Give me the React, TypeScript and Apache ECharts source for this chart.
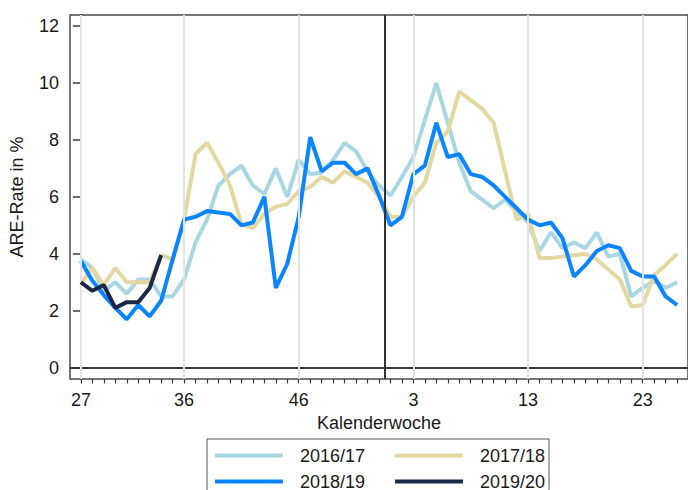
import React, { useEffect, useRef } from "react";
import * as echarts from "echarts";

const weeks = [
  "27", "28", "29", "30", "31", "32", "33", "34", "35", "36", "37", "38", "39", "40",
  "41", "42", "43", "44", "45", "46", "47", "48", "49", "50", "51", "52", "53",
  "1", "2", "3", "4", "5", "6", "7", "8", "9", "10", "11", "12", "13", "14", "15",
  "16", "17", "18", "19", "20", "21", "22", "23", "24", "25", "26",
];

const s1617 = [
  3.8, 3.5, 2.7, 3.0, 2.6, 3.1, 3.1, 2.5, 2.5, 3.1, 4.4, 5.2, 6.4, 6.8, 7.1, 6.4, 6.1,
  7.0, 6.0, 7.3, 6.8, 6.85, 7.3, 7.9, 7.6, 6.9, 6.4, 6.05, 6.7, 7.4, 8.7, 10.0, 8.6,
  7.2, 6.2, 5.9, 5.6, 5.9, 5.5, 5.1, 4.1, 4.75, 4.2, 4.4, 4.2, 4.75, 3.9, 4.0, 2.5,
  2.8, 3.05, 2.8, 3.0,
];
const s1718 = [
  2.95, 3.5, 2.9, 3.5, 3.0, 3.0, 3.0, 3.95, 3.8, 5.2, 7.5, 7.9, 7.2, 6.4, 5.05, 4.9,
  5.4, 5.65, 5.75, 6.2, 6.35, 6.7, 6.5, 6.9, 6.7, 6.5, 6.0, 5.3, 5.3, 6.0, 6.5, 7.9,
  8.3, 9.7, 9.4, 9.1, 8.6, 6.9, 5.2, 5.4, 3.85, 3.85, 3.9, 3.95, 4.0, 3.8, 3.45, 3.1,
  2.15, 2.2, 3.25, 3.6, 4.0,
];
const s1819 = [
  3.75, 3.05, 2.55, 2.1, 1.7, 2.2, 1.8, 2.35, 3.8, 5.2, 5.3, 5.5, 5.45, 5.4, 5.0, 5.1,
  6.0, 2.8, 3.65, 5.3, 8.1, 6.9, 7.2, 7.2, 6.8, 7.0, 6.05, 5.0, 5.3, 6.8, 7.1, 8.6,
  7.4, 7.5, 6.8, 6.7, 6.4, 6.0, 5.6, 5.2, 5.0, 5.1, 4.55, 3.2, 3.6, 4.1, 4.3, 4.2,
  3.4, 3.2, 3.2, 2.5, 2.2,
];
const s1920 = [3.0, 2.7, 2.9, 2.1, 2.3, 2.3, 2.8, 3.95];

const seasonNames = ["2016/17", "2017/18", "2018/19", "2019/20"];
const seasonColors = ["#a9d6e3", "#e4d8a2", "#0b84ff", "#1b2847"];
const majorTickIdx = [0, 9, 19, 29, 39, 49];
const yTicks = [0, 2, 4, 6, 8, 10, 12];
const yearBoundary = 26.5;

const FONT = "Liberation Sans, Arial, sans-serif";

export default function App() {
  const ref = useRef<HTMLDivElement>(null);

  useEffect(() => {
    if (!ref.current) return;
    const chart = echarts.init(ref.current, null, { renderer: "svg" });
    const allIdx = weeks.map((_, i) => i);
    const seriesData = [s1617, s1718, s1819, s1920];

    const xBase = {
      type: "value",
      min: -0.95,
      max: 52.95,
      position: "bottom",
      splitLine: { show: false },
    };

    const option: any = {
      animation: false,
      backgroundColor: "#ffffff",
      textStyle: { fontFamily: FONT },
      grid: {
        left: 68,
        right: -8,
        top: 15,
        bottom: 111,
        show: true,
        borderColor: "#4a4a4a",
        borderWidth: 1.5,
        backgroundColor: "transparent",
      },
      xAxis: [
        {
          ...xBase,
          name: "Kalenderwoche",
          nameLocation: "middle",
          nameGap: 30,
          nameTextStyle: { fontSize: 18, color: "#1a1a1a", fontFamily: FONT },
          axisLine: { show: true, lineStyle: { color: "#3a3a3a", width: 2 } },
          axisTick: {
            show: true,
            customValues: majorTickIdx,
            length: 8,
            lineStyle: { color: "#3a3a3a", width: 1.5 },
          },
          axisLabel: {
            customValues: majorTickIdx,
            formatter: (v: number) => weeks[Math.round(v)] ?? "",
            fontSize: 18,
            color: "#1a1a1a",
            margin: 12,
            fontFamily: FONT,
          },
        },
        {
          ...xBase,
          axisLine: { show: false },
          axisTick: {
            show: true,
            customValues: allIdx,
            length: 4.5,
            lineStyle: { color: "#3a3a3a", width: 1.2 },
          },
          axisLabel: { show: false },
        },
      ],
      yAxis: {
        type: "value",
        min: -0.4,
        max: 12.39,
        name: "ARE-Rate in %",
        nameLocation: "middle",
        nameGap: 44,
        nameTextStyle: { fontSize: 18, color: "#1a1a1a", fontFamily: FONT },
        splitLine: { show: false },
        axisLine: { show: true, lineStyle: { color: "#3a3a3a", width: 2 } },
        axisTick: {
          show: true,
          customValues: yTicks,
          length: 8,
          lineStyle: { color: "#3a3a3a", width: 1.5 },
        },
        axisLabel: {
          customValues: yTicks,
          fontSize: 18,
          color: "#1a1a1a",
          margin: 11,
          fontFamily: FONT,
        },
      },
      legend: [
        {
          data: [seasonNames[0], seasonNames[1]],
          left: 215,
          top: 445,
          padding: 0,
          itemGap: 30,
          itemWidth: 68,
          itemHeight: 4,
          icon: "rect",
          textStyle: {
            fontSize: 18,
            color: "#1a1a1a",
            lineHeight: 21,
            padding: [0, 0, 0, 12],
            fontFamily: FONT,
          },
        },
        {
          data: [seasonNames[2], seasonNames[3]],
          left: 215,
          top: 471,
          padding: 0,
          itemGap: 30,
          itemWidth: 68,
          itemHeight: 4,
          icon: "rect",
          textStyle: {
            fontSize: 18,
            color: "#1a1a1a",
            lineHeight: 21,
            padding: [0, 0, 0, 12],
            fontFamily: FONT,
          },
        },
      ],
      graphic: [
        {
          type: "rect",
          shape: { x: 207, y: 439, width: 342, height: 70 },
          style: { fill: "none", stroke: "#555555", lineWidth: 1 },
          silent: true,
        },
      ],
      series: [
        {
          type: "line",
          name: "__grid",
          data: [],
          z: 1,
          silent: true,
          markLine: {
            silent: true,
            symbol: ["none", "none"],
            label: { show: false },
            animation: false,
            data: [
              ...majorTickIdx.map((v) => ({
                xAxis: v,
                lineStyle: { color: "#e3e3e3", width: 2, type: "solid" },
              })),
              {
                xAxis: yearBoundary,
                lineStyle: { color: "#333333", width: 2, type: "solid" },
              },
            ],
          },
        },
        ...seriesData.map((arr, k) => ({
          type: "line",
          name: seasonNames[k],
          data: arr.map((v, i) => [i, v]),
          symbol: "none",
          z: 2 + k,
          lineStyle: { color: seasonColors[k], width: 4 },
          itemStyle: { color: seasonColors[k] },
        })),
      ],
    };

    chart.setOption(option);
    return () => chart.dispose();
  }, []);

  return (
    <div
      ref={ref}
      style={{ position: "fixed", left: 0, top: 0, width: 688, height: 490 }}
    />
  );
}
